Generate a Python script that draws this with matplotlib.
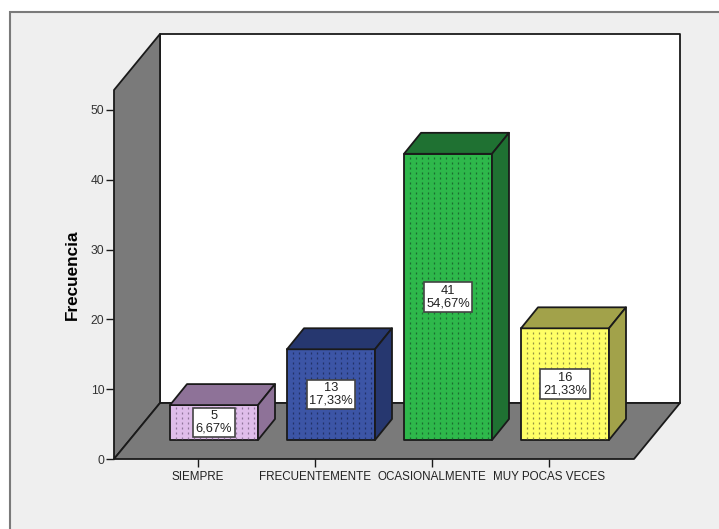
# Gráfico de barras 3D de frecuencias (estilo SPSS)
import numpy as np
import matplotlib
matplotlib.use('Agg')
import matplotlib.pyplot as plt
from matplotlib.patches import Polygon, Rectangle

plt.rcParams['font.family'] = ['Liberation Sans', 'DejaVu Sans']

# Datos
categorias = ['SIEMPRE', 'FRECUENTEMENTE', 'OCASIONALMENTE', 'MUY POCAS VECES']
frecuencias = [5, 13, 41, 16]
porcentajes = ['6,67%', '17,33%', '54,67%', '21,33%']
y_ticks = [0, 10, 20, 30, 40, 50]

# Colores de cada barra: frente, arriba, lado
col_frente = ['#dfbdea', '#3c55a6', '#2eb84b', '#ffff66']
col_arriba = ['#8e7298', '#26376f', '#1f7132', '#a2a24a']
col_lado = ['#8e7298', '#26376f', '#1f7132', '#a2a24a']
col_puntos = ['#7d6488', '#1c2a58', '#17592a', '#77773a']

# Geometría en píxeles de la figura
W, H = 719, 529
px_x0, px_x1 = 114, 634      # eje x frontal
px_y0, px_ytop = 459, 90     # eje y frontal
px_por_cat = 117
px_por_unidad = 6.98

fig = plt.figure(figsize=(W / 100, H / 100), dpi=100, facecolor='white')

# Fondo gris con marco
fondo = Rectangle((10 / W, -0.01), 1, 1.01 - 12 / H, transform=fig.transFigure,
                  facecolor='#efefef', edgecolor='#7a7a7a', linewidth=1.5, zorder=-1)
fig.add_artist(fondo)

ax = fig.add_axes([px_x0 / W, 1 - px_y0 / H, (px_x1 - px_x0) / W, (px_y0 - px_ytop) / H])
ax.set_zorder(2)
ax.patch.set_visible(False)
for s in ax.spines.values():
    s.set_visible(False)

# Escalas: cada categoría es una unidad de x
x_izq = (px_x0 - 198) / px_por_cat
x_der = (px_x1 - 198) / px_por_cat
y_sup = (px_y0 - px_ytop) / px_por_unidad
ax.set_xlim(x_izq, x_der)
ax.set_ylim(0, y_sup)

# Profundidad de la caja y de las barras
dx_caja = 46 / px_por_cat
dy_caja = 56 / px_por_unidad
dx_barra = 17 / px_por_cat
dy_barra = 21 / px_por_unidad
ancho = 88 / px_por_cat
off_x = (16 - 44) / px_por_cat       # borde izquierdo respecto al tick
off_y = 19 / px_por_unidad           # base de la barra sobre el eje


def poli(puntos, fc, ec='#1a1a1a', lw=1.3, z=2):
    ax.add_patch(Polygon(puntos, closed=True, facecolor=fc, edgecolor=ec,
                         linewidth=lw, clip_on=False, zorder=z, joinstyle='round'))


# Pared del fondo, pared lateral y piso
poli([(x_izq + dx_caja, dy_caja), (x_der + dx_caja, dy_caja),
      (x_der + dx_caja, y_sup + dy_caja), (x_izq + dx_caja, y_sup + dy_caja)], 'white')
poli([(x_izq, 0), (x_izq + dx_caja, dy_caja),
      (x_izq + dx_caja, y_sup + dy_caja), (x_izq, y_sup)], '#7a7a7a')
poli([(x_izq, 0), (x_der, 0), (x_der + dx_caja, dy_caja), (x_izq + dx_caja, dy_caja)], '#7a7a7a')

# Barras
for i, f in enumerate(frecuencias):
    x0 = i + off_x
    x1 = x0 + ancho
    y0 = off_y
    y1 = off_y + f
    poli([(x0, y0), (x1, y0), (x1, y1), (x0, y1)], col_frente[i], z=3)
    poli([(x0, y1), (x1, y1), (x1 + dx_barra, y1 + dy_barra), (x0 + dx_barra, y1 + dy_barra)],
         col_arriba[i], z=3)
    poli([(x1, y0), (x1 + dx_barra, y0 + dy_barra), (x1 + dx_barra, y1 + dy_barra), (x1, y1)],
         col_lado[i], z=3)
    # Trama de puntos en el frente
    xs = np.arange(x0 + 6 / px_por_cat, x1 - 3 / px_por_cat, 6 / px_por_cat)
    ax.vlines(xs, y0 + 0.2, y1 - 0.2, colors=col_puntos[i], linewidth=0.9, alpha=0.8,
              linestyles=(0, (1.6, 2.4)), zorder=4)
    # Etiqueta con valor y porcentaje
    ax.text(x0 + ancho / 2, y0 + f / 2, f'{f}\n{porcentajes[i]}', ha='center', va='center',
            fontsize=9.3, color='#222222', linespacing=1.05, zorder=5,
            bbox=dict(boxstyle='square,pad=0.2', facecolor='white', edgecolor='#444444', linewidth=1.2))

# Ejes y títulos
ax.set_xticks(range(len(categorias)))
ax.set_xticklabels(categorias, fontsize=8.4, color='#222222')
ax.set_yticks(y_ticks)
ax.tick_params(axis='x', length=6, width=1, color='#1a1a1a', pad=3)
ax.tick_params(axis='y', length=5.5, width=1, color='#1a1a1a', pad=1.5, labelsize=8.7, labelcolor='#333333')
ax.set_ylabel('Frecuencia', fontsize=12.3, fontweight='bold', color='black', labelpad=8)

fig.savefig('out.png', dpi=100, facecolor=fig.get_facecolor())
